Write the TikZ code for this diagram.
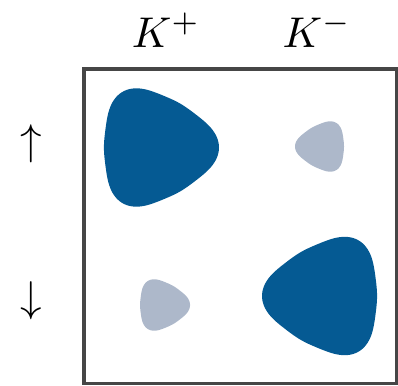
\documentclass[tikz,border=0pt]{standalone}
\usepackage{amsmath}
\definecolor{bandblue}{HTML}{055A93}
\definecolor{bandgray}{HTML}{ADB8CA}
\definecolor{framegray}{HTML}{464646}
\tikzset{
  biglabel/.style={inner sep=0pt, scale=4.3},
}
\begin{document}
\begin{tikzpicture}[x=1pt,y=-1pt]
	\useasboundingbox (0,0) rectangle (398,385);
	% pockets: centre x, centre y, radius, direction, colour
	\foreach \cx/\cy/\R/\phi/\col in {154.7/147.5/56.4/0/bandblue, 322.4/146.5/24/180/bandgray,
		162.1/305/24.5/0/bandgray, 326.3/296/56.4/180/bandblue}{
		\fill[\col] plot[domain=0:360, samples=150, smooth cycle]
			({\cx+\R*(1+0.12*cos(3*(\x-\phi))+0.02*cos(6*(\x-\phi)))*cos(\x)},
			 {\cy+\R*(1+0.12*cos(3*(\x-\phi))+0.02*cos(6*(\x-\phi)))*sin(\x)});
	}
	\draw[framegray, line width=3.6pt] (84,69) rectangle (396.3,383.3);
	\node[biglabel] (kplus) at (166,30) {$K^{+}$};
	\node[biglabel] (kminus) at (317,30) {$K^{-}$};
	\node[biglabel] (spinup) at (31.5,143.5) {$\uparrow$};
	\node[biglabel] (spindown) at (31.5,301) {$\downarrow$};
\end{tikzpicture}
\end{document}
